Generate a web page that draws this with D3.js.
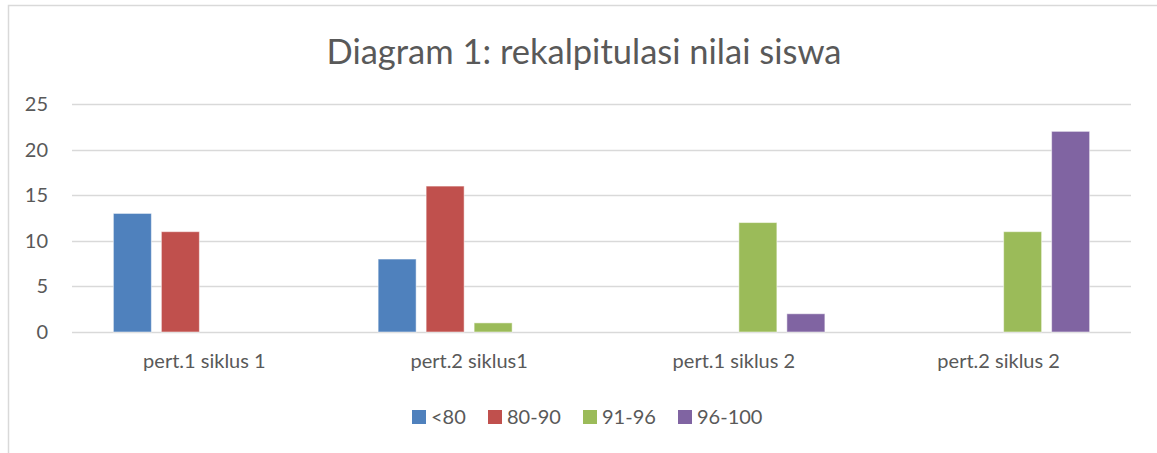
<!DOCTYPE html>
<html>
<head>
<meta charset="utf-8">
<script src="https://cdn.jsdelivr.net/npm/d3@7"></script>
<style>
  body { margin: 0; background: #fff; }
  svg { display: block; font-family: Lato, "Open Sans", sans-serif; }
</style>
</head>
<body>
<div id="chart"></div>
<script>
// data
const categories = ["pert.1 siklus 1", "pert.2 siklus1", "pert.1 siklus 2", "pert.2 siklus 2"];
const seriesNames = ["<80", "80-90", "91-96", "96-100"];
const below80 = [13, 8, 0, 0];
const from80to90 = [11, 16, 0, 0];
const from91to96 = [0, 1, 12, 11];
const from96to100 = [0, 0, 2, 22];
const yTicks = [0, 5, 10, 15, 20, 25];
const colors = ["#4F81BD", "#C0504D", "#9BBB59", "#8064A2"];

const seriesValues = [below80, from80to90, from91to96, from96to100];

const W = 1157, H = 453;
const margin = {top: 104, left: 72, right: 26, bottom: 121};
const innerW = W - margin.left - margin.right;
const innerH = H - margin.top - margin.bottom;

const svg = d3.select("#chart").append("svg")
  .attr("width", W)
  .attr("height", H);

// chart frame (right and bottom edges fall outside the picture)
svg.append("rect")
  .attr("x", 8.5).attr("y", 5.5)
  .attr("width", W + 20).attr("height", H + 20)
  .attr("fill", "none")
  .attr("stroke", "#d9d9d9")
  .attr("stroke-width", 1.5);

svg.append("text")
  .attr("x", 584)
  .attr("y", 64)
  .attr("text-anchor", "middle")
  .attr("fill", "#595959")
  .style("font-size", "34.5px")
  .text("Diagram 1: rekalpitulasi nilai siswa");

const g = svg.append("g")
  .attr("transform", "translate(" + margin.left + "," + margin.top + ")");

const x0 = d3.scaleBand().domain(categories).range([0, innerW]).padding(0);
const groupW = 182;
const x1 = d3.scaleBand().domain(seriesNames).range([0, groupW]).paddingInner(10 / 48).paddingOuter(0);
const y = d3.scaleLinear().domain([0, 25]).range([innerH, 0]);

// gridlines
g.selectAll(".grid")
  .data(yTicks)
  .enter()
  .append("line")
  .attr("x1", 0)
  .attr("x2", innerW)
  .attr("y1", d => Math.round(y(d)) + 0.5)
  .attr("y2", d => Math.round(y(d)) + 0.5)
  .attr("stroke", "#d9d9d9")
  .attr("stroke-width", 1.5);

// y axis labels
const yAxis = d3.axisLeft(y).tickValues(yTicks).tickSize(0).tickPadding(24);
const ya = g.append("g").call(yAxis);
ya.select(".domain").remove();
ya.selectAll("text")
  .attr("fill", "#595959")
  .style("font-size", "20px")
  .style("font-family", "Lato, sans-serif");

// bars
const rows = [];
categories.forEach(function (c, i) {
  seriesNames.forEach(function (s, j) {
    rows.push({cat: c, series: s, value: seriesValues[j][i], color: colors[j]});
  });
});

g.selectAll(".bar")
  .data(rows.filter(d => d.value > 0))
  .enter()
  .append("rect")
  .attr("class", "bar")
  .attr("x", d => x0(d.cat) + (x0.bandwidth() - groupW) / 2 + x1(d.series))
  .attr("width", x1.bandwidth())
  .attr("y", d => y(d.value))
  .attr("height", d => y(0) - y(d.value))
  .attr("fill", d => d.color)
  .attr("stroke", "#ffffff")
  .attr("stroke-opacity", 0.5)
  .attr("stroke-width", 1);

// category axis
const xAxis = d3.axisBottom(x0).tickSize(0).tickPadding(22);
const xa = g.append("g").attr("transform", "translate(0," + innerH + ")").call(xAxis);
xa.select(".domain").remove();
xa.selectAll("text")
  .attr("fill", "#595959")
  .style("font-size", "20px")
  .style("font-family", "Lato, sans-serif");

// legend
const legendX = [412, 488, 583, 678];
const legend = svg.selectAll(".legend")
  .data(seriesNames)
  .enter()
  .append("g")
  .attr("class", "legend")
  .attr("transform", (d, i) => "translate(" + legendX[i] + ",410)");

legend.append("rect")
  .attr("width", 14)
  .attr("height", 14)
  .attr("fill", (d, i) => colors[i]);

legend.append("text")
  .attr("x", 19)
  .attr("y", 14)
  .attr("fill", "#595959")
  .style("font-size", "20px")
  .text(d => d);
</script>
</body>
</html>
